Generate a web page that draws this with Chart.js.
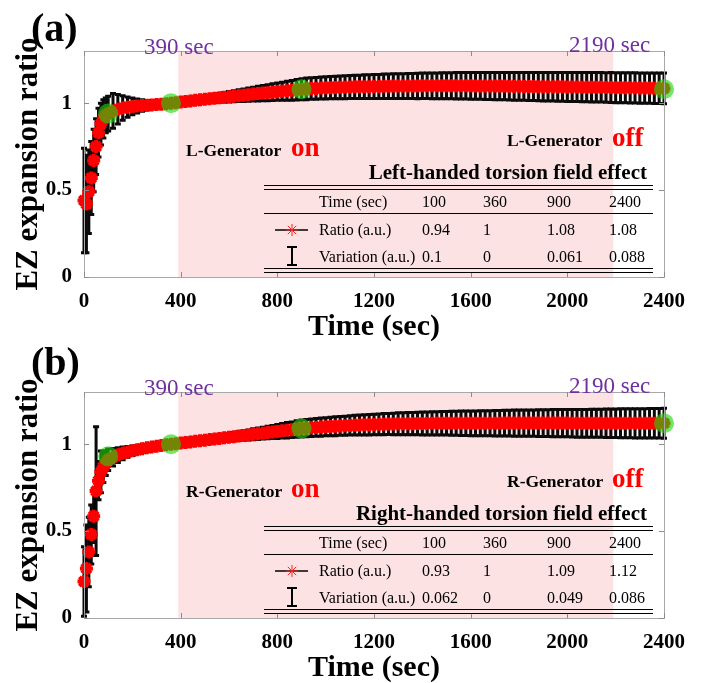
<!DOCTYPE html>
<html>
<head>
<meta charset="utf-8">
<script src="https://cdn.jsdelivr.net/npm/chart.js@4.4.1/dist/chart.umd.min.js"></script>
<style>
    body { margin: 0; background: #fff; }
    #page { position: relative; width: 704px; height: 683px; overflow: hidden; font-family: 'Liberation Serif', 'Times New Roman', serif; }
    .panel { position: absolute; left: 0; width: 704px; height: 342px; }
    .panel canvas { position: absolute; left: 0; top: 0; }
    .txt { position: absolute; line-height: 1; white-space: nowrap; color: #000; }
    .hline { position: absolute; height: 0; border-top: 1.3px solid #000; }
</style>
</head>
<body>
<div id="page">
    <div class="panel" id="panelA" style="top:0"><canvas id="chartA" width="704" height="342"></canvas></div>
    <div class="panel" id="panelB" style="top:341px"><canvas id="chartB" width="704" height="342"></canvas></div>
</div>
<script>
    // Measurement times (sec)
    const times = [0, 10, 20, 30, 40, 50, 60, 70, 80, 90, 100,
        120, 140, 160, 180, 200, 220, 240, 260, 280, 300, 320, 340,
        360, 380, 400, 420, 440, 460, 480, 500, 520, 540, 560, 580, 600, 620, 640, 660, 680, 700,
        720, 740, 760, 780, 800, 820, 840, 860, 880, 900,
        920, 940, 960, 980, 1000, 1020, 1040, 1060, 1080, 1100, 1120, 1140, 1160, 1180, 1200,
        1220, 1240, 1260, 1280, 1300, 1320, 1340, 1360, 1380, 1400,
        1420, 1440, 1460, 1480, 1500, 1520, 1540, 1560, 1580, 1600, 1620, 1640, 1660, 1680, 1700,
        1720, 1740, 1760, 1780, 1800, 1820, 1840, 1860, 1880, 1900,
        1920, 1940, 1960, 1980, 2000, 2020, 2040, 2060, 2080, 2100,
        2120, 2140, 2160, 2180, 2200, 2220, 2240, 2260, 2280, 2300,
        2320, 2340, 2360, 2380, 2400];

    // (a) left-handed: ratio and variation
    const meansA = [0.44, 0.42, 0.49, 0.57, 0.67, 0.75, 0.83, 0.88, 0.91, 0.93, 0.94,
        0.955, 0.965, 0.972, 0.977, 0.981, 0.984, 0.986, 0.988, 0.990, 0.992, 0.994, 0.997,
        1.000, 1.003, 1.006, 1.009, 1.013, 1.016, 1.019, 1.022, 1.025, 1.028, 1.031, 1.034, 1.037, 1.040,
        1.043, 1.046, 1.049, 1.052, 1.055, 1.058, 1.060, 1.063, 1.066, 1.068, 1.071, 1.074, 1.077, 1.080,
        1.082, 1.084, 1.085, 1.087, 1.088, 1.089, 1.090, 1.091, 1.092, 1.093, 1.094, 1.094, 1.095,
        1.095, 1.096, 1.096, 1.097, 1.097, 1.098, 1.098, 1.098, 1.099, 1.099, 1.099, 1.100,
        1.100, 1.100, 1.100, 1.100, 1.100, 1.100, 1.100, 1.100, 1.100, 1.100, 1.099, 1.099, 1.099, 1.099, 1.098,
        1.098, 1.098, 1.097, 1.097, 1.097, 1.096, 1.096, 1.096, 1.095, 1.095,
        1.095, 1.094, 1.094, 1.094, 1.093, 1.093, 1.093, 1.092, 1.092, 1.091,
        1.091, 1.091, 1.090, 1.090, 1.089, 1.089, 1.089, 1.088, 1.088, 1.087,
        1.087, 1.087, 1.086, 1.086, 1.085];
    const errorsA = [0.30, 0.28, 0.24, 0.21, 0.18, 0.16, 0.14, 0.12, 0.11, 0.10, 0.10,
        0.100, 0.085, 0.070, 0.058, 0.048, 0.040, 0.033, 0.027, 0.021, 0.015, 0.010, 0.005,
        0.000, 0.003, 0.006, 0.008, 0.011, 0.013, 0.016, 0.018, 0.021, 0.023, 0.025, 0.028, 0.030, 0.032,
        0.034, 0.036, 0.038, 0.040, 0.042, 0.044, 0.046, 0.048, 0.050, 0.052, 0.055, 0.057, 0.059, 0.061,
        0.062, 0.062, 0.063, 0.063, 0.064, 0.064, 0.065, 0.065, 0.066, 0.066, 0.067, 0.067, 0.068,
        0.068, 0.069, 0.069, 0.070, 0.070, 0.071, 0.071, 0.071, 0.072, 0.072, 0.073, 0.073,
        0.073, 0.074, 0.074, 0.075, 0.075, 0.075, 0.076, 0.076, 0.076, 0.077, 0.077, 0.077, 0.078, 0.078, 0.078,
        0.079, 0.079, 0.079, 0.080, 0.080, 0.080, 0.081, 0.081, 0.081, 0.082,
        0.082, 0.082, 0.083, 0.083, 0.083, 0.084, 0.084, 0.084, 0.084, 0.085,
        0.085, 0.085, 0.085, 0.086, 0.086, 0.086, 0.086, 0.087, 0.087, 0.087,
        0.087, 0.087, 0.088, 0.088, 0.088];

    // (b) right-handed: ratio and variation
    const meansB = [0.21, 0.285, 0.38, 0.48, 0.585, 0.73, 0.79, 0.84, 0.87, 0.89, 0.91,
        0.925, 0.937, 0.947, 0.955, 0.962, 0.968, 0.974, 0.979, 0.984, 0.988, 0.992, 0.996,
        1.000, 1.003, 1.007, 1.010, 1.013, 1.017, 1.020, 1.023, 1.027, 1.030, 1.033, 1.037, 1.040, 1.043,
        1.047, 1.050, 1.053, 1.057, 1.060, 1.063, 1.067, 1.070, 1.073, 1.077, 1.080, 1.083, 1.087, 1.090,
        1.092, 1.094, 1.096, 1.098, 1.100, 1.102, 1.103, 1.105, 1.106, 1.108, 1.109, 1.110, 1.111,
        1.112, 1.113, 1.114, 1.115, 1.116, 1.116, 1.117, 1.117, 1.118, 1.118, 1.119, 1.119,
        1.119, 1.120, 1.120, 1.120, 1.120, 1.120, 1.120, 1.120, 1.120, 1.120, 1.120, 1.120, 1.120, 1.120, 1.120,
        1.120, 1.121, 1.121, 1.121, 1.121, 1.121, 1.121, 1.121, 1.121, 1.121,
        1.121, 1.121, 1.121, 1.121, 1.121, 1.120, 1.120, 1.120, 1.120, 1.120,
        1.120, 1.120, 1.120, 1.120, 1.120, 1.120, 1.120, 1.120, 1.120, 1.120,
        1.120, 1.120, 1.120, 1.120, 1.120];
    const errorsB = [0.20, 0.25, 0.20, 0.17, 0.15, 0.37, 0.11, 0.12, 0.09, 0.07, 0.062,
        0.050, 0.042, 0.036, 0.031, 0.027, 0.023, 0.020, 0.017, 0.014, 0.011, 0.008, 0.004,
        0.000, 0.002, 0.004, 0.006, 0.007, 0.009, 0.011, 0.013, 0.015, 0.016, 0.018, 0.020, 0.022, 0.024,
        0.025, 0.027, 0.029, 0.031, 0.033, 0.034, 0.036, 0.038, 0.040, 0.042, 0.044, 0.045, 0.047, 0.049,
        0.050, 0.050, 0.051, 0.052, 0.052, 0.053, 0.054, 0.054, 0.055, 0.056, 0.057, 0.057, 0.058,
        0.059, 0.059, 0.060, 0.061, 0.061, 0.062, 0.063, 0.063, 0.064, 0.064, 0.065, 0.066,
        0.066, 0.067, 0.067, 0.068, 0.068, 0.069, 0.069, 0.070, 0.070, 0.071, 0.071, 0.072, 0.072, 0.072, 0.073,
        0.073, 0.074, 0.074, 0.075, 0.075, 0.075, 0.076, 0.076, 0.077, 0.077,
        0.077, 0.078, 0.078, 0.078, 0.079, 0.079, 0.080, 0.080, 0.080, 0.081,
        0.081, 0.081, 0.082, 0.082, 0.082, 0.083, 0.083, 0.083, 0.084, 0.084,
        0.084, 0.085, 0.085, 0.085, 0.086];

    // Table values (also the green checkpoints)
    const tableTimes = [100, 360, 900, 2400];
    const ratioA = [0.94, 1, 1.08, 1.08];
    const variationA = [0.1, 0, 0.061, 0.088];
    const ratioB = [0.93, 1, 1.09, 1.12];
    const variationB = [0.062, 0, 0.049, 0.086];

    const xTicks = [0, 400, 800, 1200, 1600, 2000, 2400];
    const yTicks = [0, 0.5, 1];
    const generatorOn = 390;
    const generatorOff = 2190;

    const serif = "'Liberation Serif', 'Times New Roman', serif";

    // Pink band while the generator is on
    const shadePlugin = {
        id: 'shade',
        beforeDraw(chart) {
            const { ctx, chartArea, scales: { x } } = chart;
            const x0 = x.getPixelForValue(generatorOn);
            const x1 = x.getPixelForValue(generatorOff);
            ctx.save();
            ctx.fillStyle = 'rgb(253, 226, 228)';
            ctx.fillRect(x0, chartArea.top, x1 - x0, chartArea.bottom - chartArea.top);
            ctx.restore();
        }
    };

    // Black error bars with caps
    const errorBarPlugin = {
        id: 'errorBars',
        beforeDatasetsDraw(chart, args, opts) {
            const { ctx, scales: { x, y } } = chart;
            ctx.save();
            ctx.strokeStyle = '#0a0a0a';
            ctx.lineWidth = 3;
            times.forEach(function (t, i) {
                const px = x.getPixelForValue(t);
                const top = y.getPixelForValue(opts.means[i] + opts.errors[i]);
                const bot = y.getPixelForValue(opts.means[i] - opts.errors[i]);
                ctx.beginPath();
                ctx.moveTo(px, top); ctx.lineTo(px, bot);
                ctx.moveTo(px - 3, top); ctx.lineTo(px + 3, top);
                ctx.moveTo(px - 3, bot); ctx.lineTo(px + 3, bot);
                ctx.stroke();
            });
            ctx.restore();
        }
    };

    // Gray box with inward ticks (matlab style)
    const boxPlugin = {
        id: 'box',
        afterDraw(chart) {
            const { ctx, chartArea: a, scales: { x, y } } = chart;
            ctx.save();
            ctx.strokeStyle = '#a8a8a8';
            ctx.lineWidth = 1;
            ctx.strokeRect(a.left + 0.5, a.top + 0.5, a.right - a.left, a.bottom - a.top);
            ctx.strokeStyle = '#8c8c8c';
            ctx.beginPath();
            xTicks.forEach(function (v) {
                const px = Math.round(x.getPixelForValue(v)) + 0.5;
                ctx.moveTo(px, a.bottom); ctx.lineTo(px, a.bottom - 5);
                ctx.moveTo(px, a.top); ctx.lineTo(px, a.top + 5);
            });
            yTicks.forEach(function (v) {
                const py = Math.round(y.getPixelForValue(v)) + 0.5;
                ctx.moveTo(a.left, py); ctx.lineTo(a.left + 5, py);
                ctx.moveTo(a.right, py); ctx.lineTo(a.right - 5, py);
            });
            ctx.stroke();
            ctx.restore();
        }
    };

    function makeChart(canvasId, means, errors, ratios) {
        return new Chart(document.getElementById(canvasId), {
            type: 'line',
            data: {
                datasets: [{
                    type: 'scatter',
                    data: tableTimes.map((t, i) => ({ x: t, y: ratios[i] })),
                    pointRadius: 10,
                    pointBackgroundColor: 'rgba(30, 215, 10, 0.62)',
                    pointBorderWidth: 0,
                    clip: false
                }, {
                    data: times.map((t, i) => ({ x: t, y: means[i] })),
                    borderColor: '#000',
                    borderWidth: 1,
                    pointStyle: 'star',
                    pointRadius: 6.5,
                    pointBorderColor: '#ff0000',
                    pointBorderWidth: 4,
                    clip: false
                }]
            },
            options: {
                responsive: false,
                animation: false,
                layout: { padding: { top: 51, right: 40, left: 0, bottom: 0 } },
                plugins: {
                    legend: { display: false },
                    tooltip: { enabled: false },
                    errorBars: { means: means, errors: errors }
                },
                scales: {
                    x: {
                        type: 'linear', min: 0, max: 2400,
                        afterBuildTicks: s => { s.ticks = xTicks.map(v => ({ value: v })); },
                        afterFit: s => { s.height = 65; },
                        grid: { display: false },
                        border: { display: false },
                        ticks: { color: '#000', padding: 4, maxRotation: 0, callback: v => String(v), font: { family: serif, size: 21, weight: 'bold' } },
                        title: { display: true, text: 'Time (sec)', color: '#000', padding: { top: 0, bottom: 0 }, font: { family: serif, size: 30, weight: 'bold', lineHeight: 1 } }
                    },
                    y: {
                        min: 0, max: 1.3,
                        afterBuildTicks: s => { s.ticks = yTicks.map(v => ({ value: v })); },
                        afterFit: s => { s.width = 84; },
                        grid: { display: false },
                        border: { display: false },
                        ticks: { color: '#000', padding: 4, callback: v => String(v), font: { family: serif, size: 21, weight: 'bold' } },
                        title: { display: true, text: 'EZ expansion ratio', color: '#000', padding: { top: 10, bottom: 0 }, font: { family: serif, size: 31, weight: 'bold' } }
                    }
                }
            },
            plugins: [shadePlugin, errorBarPlugin, boxPlugin]
        });
    }

    // Text helpers: place text by its baseline
    function addText(panel, str, left, baseline, size, style) {
        const d = document.createElement('div');
        d.className = 'txt';
        d.textContent = str;
        d.style.fontSize = size + 'px';
        d.style.top = (baseline - 0.8375 * size) + 'px';
        if (left < 0) d.style.right = (-left) + 'px'; else d.style.left = left + 'px';
        Object.assign(d.style, style || {});
        panel.appendChild(d);
        return d;
    }

    function addLine(panel, y) {
        const d = document.createElement('div');
        d.className = 'hline';
        d.style.left = '264px';
        d.style.width = '389px';
        d.style.top = y + 'px';
        panel.appendChild(d);
    }

    function addSymbols(panel) {
        const ns = 'http://www.w3.org/2000/svg';
        const svg = document.createElementNS(ns, 'svg');
        svg.setAttribute('width', '40');
        svg.setAttribute('height', '50');
        svg.style.position = 'absolute';
        svg.style.left = '272px';
        svg.style.top = '220px';
        svg.innerHTML =
            '<line x1="3" y1="10" x2="36" y2="10" stroke="#000" stroke-width="1.5"/>' +
            '<g stroke="#ff2020" stroke-width="1"><line x1="20" y1="4" x2="20" y2="16"/><line x1="14" y1="10" x2="26" y2="10"/>' +
            '<line x1="15.8" y1="5.8" x2="24.2" y2="14.2"/><line x1="15.8" y1="14.2" x2="24.2" y2="5.8"/></g>' +
            '<g stroke="#000" stroke-width="2"><line x1="20" y1="26" x2="20" y2="46"/><line x1="15" y1="27" x2="25" y2="27"/><line x1="15" y1="45" x2="25" y2="45"/></g>';
        panel.appendChild(svg);
    }

    function buildOverlay(panelId, letter, letterBaseline, hand, side, ratios, variations) {
        const p = document.getElementById(panelId);
        const purple = { color: '#7030a0' };
        addText(p, letter, 31, letterBaseline, 40, { fontWeight: 'bold' });
        addText(p, generatorOn + ' sec', 144, 54, 23, purple);
        addText(p, generatorOff + ' sec', 569, 52, 23, purple);
        addText(p, side + '-Generator', 186, 157, 17.5, { fontWeight: 'bold' });
        addText(p, 'on', 291, 157, 27, { fontWeight: 'bold', color: '#ff0000' });
        addText(p, side + '-Generator', 507, 147, 17.5, { fontWeight: 'bold' });
        addText(p, 'off', 612, 147, 27, { fontWeight: 'bold', color: '#ff0000' });
        addText(p, hand + ' torsion field effect', -57, 180, 21, { fontWeight: 'bold' });
        [185, 189, 213, 268, 272].forEach(y => addLine(p, y));
        const cols = [422, 483, 547, 609];
        addText(p, 'Time (sec)', 319, 207, 16);
        addText(p, 'Ratio (a.u.)', 319, 235, 16);
        addText(p, 'Variation (a.u.)', 319, 262, 16);
        tableTimes.forEach((t, i) => {
            addText(p, String(t), cols[i], 207, 16);
            addText(p, String(ratios[i]), cols[i], 235, 16);
            addText(p, String(variations[i]), cols[i], 262, 16);
        });
        addSymbols(p);
    }

    makeChart('chartA', meansA, errorsA, ratioA);
    makeChart('chartB', meansB, errorsB, ratioB);
    buildOverlay('panelA', '(a)', 41, 'Left-handed', 'L', ratioA, variationA);
    buildOverlay('panelB', '(b)', 34, 'Right-handed', 'R', ratioB, variationB);
</script>
</body>
</html>
